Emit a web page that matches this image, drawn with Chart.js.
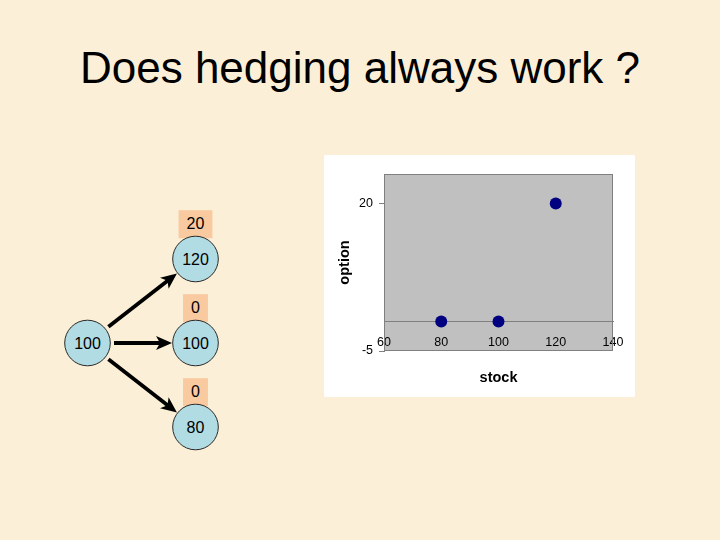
<!DOCTYPE html>
<html>
<head>
<meta charset="utf-8">
<script src="https://cdn.jsdelivr.net/npm/chart.js@4"></script>
<style>
  html, body { margin: 0; padding: 0; }
  body { width: 720px; height: 540px; background: #FBF0D7; position: relative; overflow: hidden;
         font-family: "Liberation Sans", Arial, sans-serif; }
  #deco { position: absolute; left: 0; top: 0; }
  #chartBox { position: absolute; left: 324px; top: 155px; width: 311px; height: 242px; background: #FFFFFF; }
  #chartBox canvas { display: block; }
</style>
</head>
<body>
<svg id="deco" width="720" height="540" xmlns="http://www.w3.org/2000/svg"></svg>
<div id="chartBox"><canvas id="c" width="311" height="242"></canvas></div>
<script>
// ---- data ----
const slideTitle = "Does hedging always work ?";
const rootStock = 100;
const stockOutcomes = [120, 100, 80];
const optionPayoffs = [20, 0, 0];
const xTicks = [60, 80, 100, 120, 140];
const yTicks = [-5, 20];
const xAxisTitle = "stock";
const yAxisTitle = "option";

// ---- slide title and binomial tree (SVG) ----
const NS = "http://www.w3.org/2000/svg";
const svg = document.getElementById("deco");
function el(tag, attrs, text) {
  const e = document.createElementNS(NS, tag);
  for (const k in attrs) e.setAttribute(k, attrs[k]);
  if (text !== undefined) e.textContent = text;
  svg.appendChild(e);
  return e;
}
const FONT = '"Liberation Sans", Arial, sans-serif';
el("text", {x: 360, y: 83, "text-anchor": "middle", "font-family": FONT, "font-size": 44, fill: "#000"}, slideTitle);

const root = {x: 87.5, y: 343};
const childX = 195.5, childGap = 84, R = 22.8;
const children = stockOutcomes.map((v, i) => ({x: childX, y: root.y + (i - 1) * childGap, v}));

function arrow(x1, y1, x2, y2) {
  const dx = x2 - x1, dy = y2 - y1, L = Math.hypot(dx, dy), ux = dx / L, uy = dy / L;
  const sx = x1 + ux * 26.5, sy = y1 + uy * 26.5;
  const tx = x2 - ux * 23.5, ty = y2 - uy * 23.5;
  const hl = 16, hw = 7, notch = 4;
  const bx = tx - ux * hl, by = ty - uy * hl;
  el("line", {x1: sx, y1: sy, x2: tx - ux * 9, y2: ty - uy * 9, stroke: "#000", "stroke-width": 3.8});
  const px = -uy, py = ux;
  const pts = [
    [tx, ty],
    [bx + px * hw, by + py * hw],
    [bx + ux * notch, by + uy * notch],
    [bx - px * hw, by - py * hw]
  ].map(p => p.join(",")).join(" ");
  el("polygon", {points: pts, fill: "#000"});
}
children.forEach(c => arrow(root.x, root.y, c.x, c.y));

function node(x, y, label) {
  el("circle", {cx: x, cy: y, r: R, fill: "#B2DCE4", stroke: "#2A2A2A", "stroke-width": 1});
  el("text", {x: x, y: y + 5.8, "text-anchor": "middle", "font-family": FONT, "font-size": 16, fill: "#000"}, String(label));
}
// payoff boxes
children.forEach((c, i) => {
  const txt = String(optionPayoffs[i]);
  const w = txt.length * 8.9 + 16;
  const top = c.y - R - 26;
  el("rect", {x: c.x - w / 2, y: top, width: w, height: 28, fill: "#F9C9A0"});
  el("text", {x: c.x, y: top + 18.5, "text-anchor": "middle", "font-family": FONT, "font-size": 16, fill: "#000"}, txt);
});
node(root.x, root.y, rootStock);
children.forEach(c => node(c.x, c.y, c.v));

// ---- scatter chart ----
Chart.defaults.font.family = FONT;
Chart.defaults.color = "#000";

const plotBg = {
  id: "plotBg",
  beforeDraw(chart) {
    const {ctx, chartArea: a} = chart;
    ctx.save();
    ctx.fillStyle = "#C0C0C0";
    ctx.fillRect(a.left, a.top, a.right - a.left, a.bottom - a.top);
    ctx.restore();
  },
  afterDraw(chart) {
    const {ctx, chartArea: a} = chart;
    ctx.save();
    ctx.strokeStyle = "#808080";
    ctx.lineWidth = 1;
    ctx.strokeRect(Math.round(a.left) + 0.5, Math.round(a.top) + 0.5,
                   Math.round(a.right - a.left) - 1, Math.round(a.bottom - a.top) - 1);
    ctx.restore();
  }
};

new Chart(document.getElementById("c"), {
  type: "scatter",
  data: {
    datasets: [{
      data: stockOutcomes.map((s, i) => ({x: s, y: optionPayoffs[i]})),
      backgroundColor: "#000080",
      borderColor: "#000080",
      borderWidth: 0,
      pointRadius: 6,
      pointHoverRadius: 6
    }]
  },
  options: {
    responsive: false,
    animation: false,
    events: [],
    layout: {padding: {left: 0, top: 19, right: 22, bottom: 46}},
    plugins: {legend: {display: false}, tooltip: {enabled: false}},
    scales: {
      x: {
        type: "linear",
        position: {y: 0},
        min: 60, max: 140,
        afterBuildTicks: s => { s.ticks = xTicks.map(v => ({value: v})); },
        grid: {display: false},
        border: {display: true, color: "#808080", width: 1},
        ticks: {padding: 6, font: {size: 12.5}, color: "#000", maxRotation: 0},
        title: {display: true, text: xAxisTitle, color: "#000", font: {size: 14.5, weight: "bold"}, padding: {top: 13, bottom: 0}}
      },
      y: {
        type: "linear",
        position: "left",
        min: -5, max: 25,
        afterBuildTicks: s => { s.ticks = yTicks.map(v => ({value: v})); },
        afterFit: s => { s.width = 60; },
        grid: {drawOnChartArea: false, drawTicks: true, tickLength: 5, color: "#808080"},
        border: {display: true, color: "#808080", width: 1},
        ticks: {padding: 6, font: {size: 12.5}, color: "#000"},
        title: {display: true, text: yAxisTitle, color: "#000", font: {size: 14.5, weight: "bold"}, padding: {top: 12.5, bottom: 0}}
      }
    }
  },
  plugins: [plotBg]
});
</script>
</body>
</html>
